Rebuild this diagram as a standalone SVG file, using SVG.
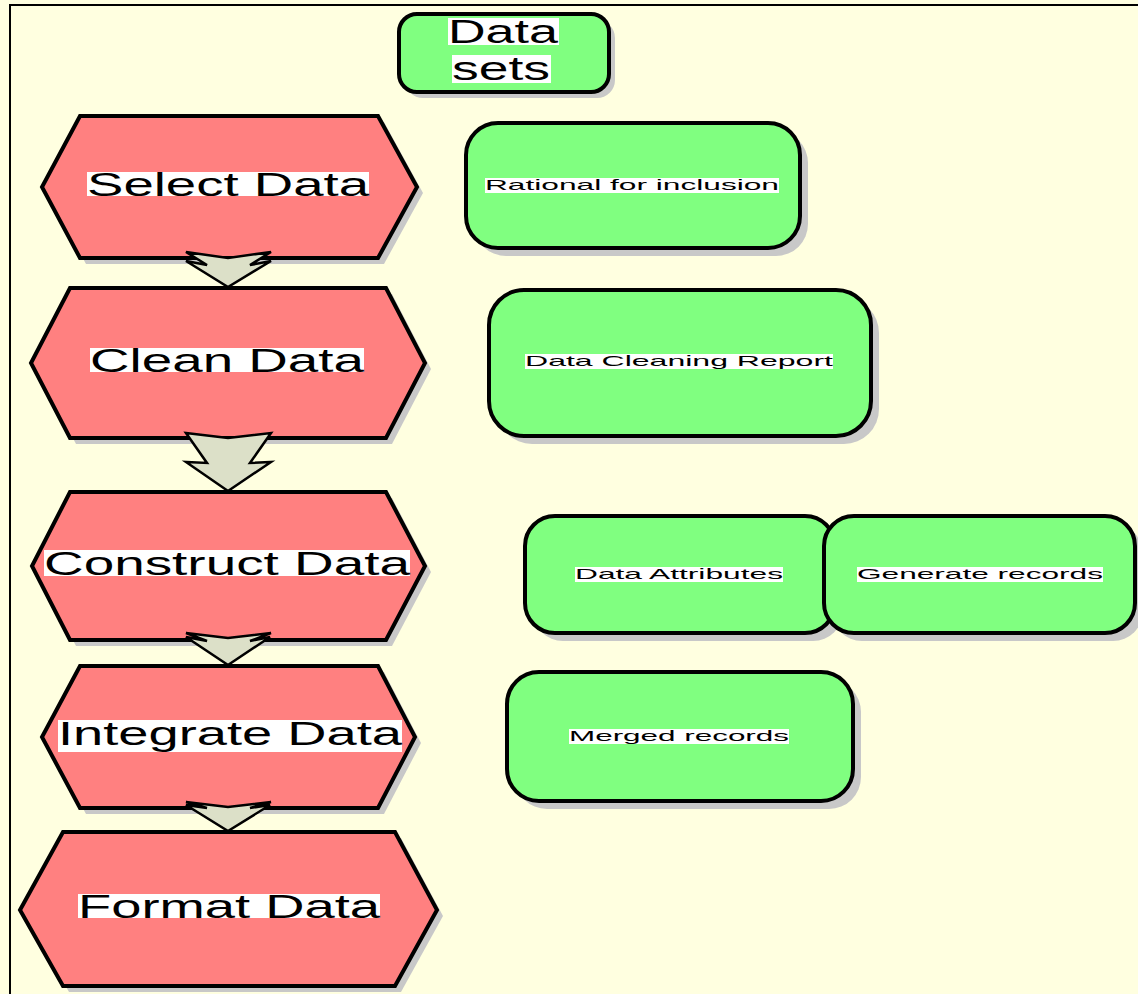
<svg xmlns="http://www.w3.org/2000/svg" width="1138" height="994" viewBox="0 0 1138 994">
<style>
.hex{fill:#FF8080;stroke:#000;stroke-width:4;stroke-linejoin:miter}
.shadow{fill:#c8c8c8;stroke:none}
.box{fill:#80FF80;stroke:#000;stroke-width:4}
.arrow{fill:#DCE0C8;stroke:#000;stroke-width:2.5;stroke-linejoin:miter}
.tbg{fill:#fff}
.big{font-family:"Liberation Sans",Arial,sans-serif;font-size:33px;fill:#000}
.small{font-family:"Liberation Sans",Arial,sans-serif;font-size:15px;fill:#000}
</style>
<rect x="0" y="0" width="1138" height="994" fill="#FFFFE0"/>
<path d="M10,994 L10,5 L1138,5" fill="none" stroke="#000" stroke-width="2"/>

<g id="node-datasets">
<rect class="shadow" x="405" y="20" width="210" height="78" rx="18"/>
<rect class="box" x="399" y="14" width="210" height="78" rx="18"/>
<rect class="tbg" x="448" y="18" width="111" height="27"/>
<text class="big" x="503" y="43" text-anchor="middle" textLength="110" lengthAdjust="spacingAndGlyphs">Data</text>
<rect class="tbg" x="452" y="55" width="99" height="28"/>
<text class="big" x="501" y="80" text-anchor="middle" textLength="98" lengthAdjust="spacingAndGlyphs">sets</text>
</g>

<g id="node-select">
<path class="shadow" d="M86,122 L384,122 L423,193 L384,264 L86,264 L48,193 Z"/>
<path class="hex" d="M80,116 L378,116 L417,187 L378,258 L80,258 L42,187 Z"/>
<rect class="tbg" x="87" y="172" width="282" height="24"/>
<text class="big" x="87" y="196" textLength="282" lengthAdjust="spacingAndGlyphs">Select Data</text>
</g>

<g id="node-clean">
<path class="shadow" d="M76,294 L392,294 L431,369 L392,444 L76,444 L37,369 Z"/>
<path class="hex" d="M70,288 L386,288 L425,363 L386,438 L70,438 L31,363 Z"/>
<rect class="tbg" x="90" y="348" width="274" height="24"/>
<text class="big" x="90" y="372" textLength="274" lengthAdjust="spacingAndGlyphs">Clean Data</text>
</g>

<g id="node-construct">
<path class="shadow" d="M76,498 L392,498 L431,572 L392,646 L76,646 L38,572 Z"/>
<path class="hex" d="M70,492 L386,492 L425,566 L386,640 L70,640 L32,566 Z"/>
<rect class="tbg" x="44" y="550" width="366" height="26"/>
<text class="big" x="44" y="575" textLength="366" lengthAdjust="spacingAndGlyphs">Construct Data</text>
</g>

<g id="node-integrate">
<path class="shadow" d="M86,672 L384,672 L421,743 L384,814 L86,814 L48,743 Z"/>
<path class="hex" d="M80,666 L378,666 L415,737 L378,808 L80,808 L42,737 Z"/>
<rect class="tbg" x="58" y="720" width="344" height="32"/>
<text class="big" x="58" y="745" textLength="344" lengthAdjust="spacingAndGlyphs">Integrate Data</text>
</g>

<g id="node-format">
<path class="shadow" d="M69,838 L401,838 L443,916 L401,992 L69,992 L26,916 Z"/>
<path class="hex" d="M63,832 L395,832 L437,910 L395,986 L63,986 L20,910 Z"/>
<rect class="tbg" x="78" y="894" width="302" height="24"/>
<text class="big" x="78" y="918" textLength="302" lengthAdjust="spacingAndGlyphs">Format Data</text>
</g>

<g id="node-rational">
<rect class="shadow" x="474" y="131" width="334" height="125" rx="32"/>
<rect class="box" x="466" y="123" width="334" height="125" rx="32"/>
<rect class="tbg" x="485" y="178" width="294" height="15"/>
<text class="small" x="485" y="190" textLength="294" lengthAdjust="spacingAndGlyphs">Rational for inclusion</text>
</g>

<g id="node-cleaning-report">
<rect class="shadow" x="497" y="298" width="382" height="146" rx="35"/>
<rect class="box" x="489" y="290" width="382" height="146" rx="35"/>
<rect class="tbg" x="525" y="354" width="308" height="15"/>
<text class="small" x="525" y="366" textLength="308" lengthAdjust="spacingAndGlyphs">Data Cleaning Report</text>
</g>

<g id="node-attributes">
<rect class="shadow" x="533" y="524" width="310" height="117" rx="30"/>
<rect class="box" x="525" y="516" width="310" height="117" rx="30"/>
<rect class="tbg" x="575" y="567" width="208" height="15"/>
<text class="small" x="575" y="579" textLength="208" lengthAdjust="spacingAndGlyphs">Data Attributes</text>
</g>

<g id="node-generate">
<rect class="shadow" x="832" y="524" width="311" height="117" rx="30"/>
<rect class="box" x="824" y="516" width="311" height="117" rx="30"/>
<rect class="tbg" x="857" y="567" width="246" height="15"/>
<text class="small" x="857" y="579" textLength="246" lengthAdjust="spacingAndGlyphs">Generate records</text>
</g>

<g id="node-merged">
<rect class="shadow" x="515" y="680" width="346" height="129" rx="32"/>
<rect class="box" x="507" y="672" width="346" height="129" rx="32"/>
<rect class="tbg" x="569" y="729" width="220" height="15"/>
<text class="small" x="569" y="741" textLength="220" lengthAdjust="spacingAndGlyphs">Merged records</text>
</g>

<g id="connectors">
<polygon class="arrow" points="186,252 228,258 271,252 250,265 271,261 228,287 186,261 207,265"/>
<polygon class="arrow" points="186,433 228,438 271,433 250,463 271,462 228,491 186,462 207,463"/>
<polygon class="arrow" points="186,633 228,638 271,633 250,641 270,637 228,665 186,637 207,641"/>
<polygon class="arrow" points="186,802 228,807 271,802 250,808 270,805 228,831 186,805 207,808"/>
</g>
</svg>
